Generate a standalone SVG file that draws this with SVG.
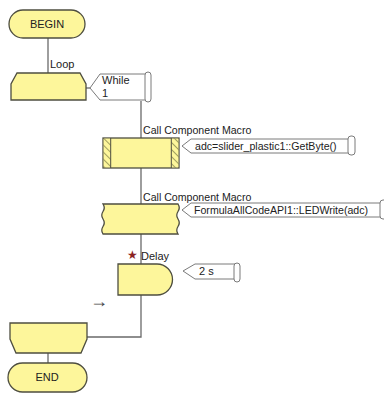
<svg xmlns="http://www.w3.org/2000/svg" width="384" height="404" viewBox="0 0 384 404">
<style>
.sh{fill:#fdf69b;stroke:#4e4e40;stroke-width:1.3}
.ln{fill:none;stroke:#6a6a6a;stroke-width:1.3}
.cm{fill:#fff;stroke:#7a7a7a;stroke-width:1}
.sc{fill:#fff;stroke:#7a7a7a;stroke-width:1}
text{font-family:"Liberation Sans",Arial,sans-serif;font-size:11px;fill:#222}
.t{font-size:10.6px}
.c{text-anchor:middle}
</style>
<defs>
<pattern id="hatch" width="5" height="5" patternUnits="userSpaceOnUse" patternTransform="rotate(-45)">
<rect width="5" height="5" fill="#fdf69b"/>
<line x1="0" y1="0" x2="0" y2="5" stroke="#8a8a50" stroke-width="1.6"/>
</pattern>
</defs>
<rect width="384" height="404" fill="#fff"/>
<g id="connectors">
<line class="ln" x1="48" y1="38" x2="48" y2="73"/>
<path class="ln" d="M141 101 V264 M141 295 V337 H87"/>
<line class="ln" x1="48" y1="353" x2="48" y2="363"/>
<line class="ln" x1="86" y1="88" x2="90" y2="88"/>
</g>
<g id="begin">
<rect class="sh" x="9" y="10" width="76" height="28" rx="14"/>
<text class="c" x="47" y="28">BEGIN</text>
</g>
<g id="loop">
<text x="50" y="68">Loop</text>
<polygon class="sh" points="17,73 80,73 86,84 86,100 11,100 11,84"/>
<polygon class="cm" points="90,88 100,74 146,74 146,100 100,100"/>
<rect class="sc" x="145" y="72" width="6" height="30" rx="3"/>
<text x="102" y="84">While</text>
<text x="102" y="97">1</text>
</g>
<g id="macro1">
<text class="t" x="143" y="134">Call Component Macro</text>
<rect class="sh" x="103" y="138" width="76" height="30"/>
<rect x="103.7" y="138.7" width="7" height="28.6" fill="url(#hatch)"/>
<rect x="171.3" y="138.7" width="7" height="28.6" fill="url(#hatch)"/>
<line x1="110.7" y1="138" x2="110.7" y2="168" stroke="#4e4e40" stroke-width="1"/>
<line x1="171.3" y1="138" x2="171.3" y2="168" stroke="#4e4e40" stroke-width="1"/>
<polygon class="cm" points="182,146 191,139 349,139 349,153 191,153"/>
<rect class="sc" x="348" y="136" width="7" height="19" rx="3"/>
<text class="t" x="195" y="150">adc=slider_plastic1::GetByte()</text>
</g>
<g id="macro2">
<text class="t" x="143" y="201">Call Component Macro</text>
<path class="sh" d="M103 204 H178 Q180.5 207.75 178 211.5 Q175.5 215.25 178 219 Q180.5 222.75 178 226.5 Q175.5 230.25 178 234 H103 Q100.5 230.25 103 226.5 Q105.5 222.75 103 219 Q100.5 215.25 103 211.5 Q105.5 207.75 103 204 Z"/>
<polygon class="cm" points="182,210 191,203 381,203 381,217 191,217"/>
<rect class="sc" x="380" y="200" width="7" height="19" rx="3"/>
<text class="t" x="194" y="214">FormulaAllCodeAPI1::LEDWrite(adc)</text>
</g>
<g id="delay">
<text x="127" y="259" style="fill:#8b2323;font-size:11.5px">★</text>
<text x="141" y="260">Delay</text>
<path class="sh" d="M118 264 H157 A15.5 15.5 0 0 1 157 295 H118 Z"/>
<polygon class="cm" points="183,271 195,264 235,264 235,279 195,279"/>
<rect class="sc" x="234" y="263" width="6" height="19" rx="3"/>
<text x="199" y="275">2 s</text>
</g>
<g id="arrow">
<text x="90" y="307" style="fill:#444;font-size:18px">→</text>
</g>
<g id="loopend">
<polygon class="sh" points="10,323 87,323 87,339 81,353 16,353 10,339"/>
</g>
<g id="end">
<rect class="sh" x="8" y="363" width="79" height="29" rx="14.5"/>
<text class="c" x="47" y="381">END</text>
</g>
</svg>
